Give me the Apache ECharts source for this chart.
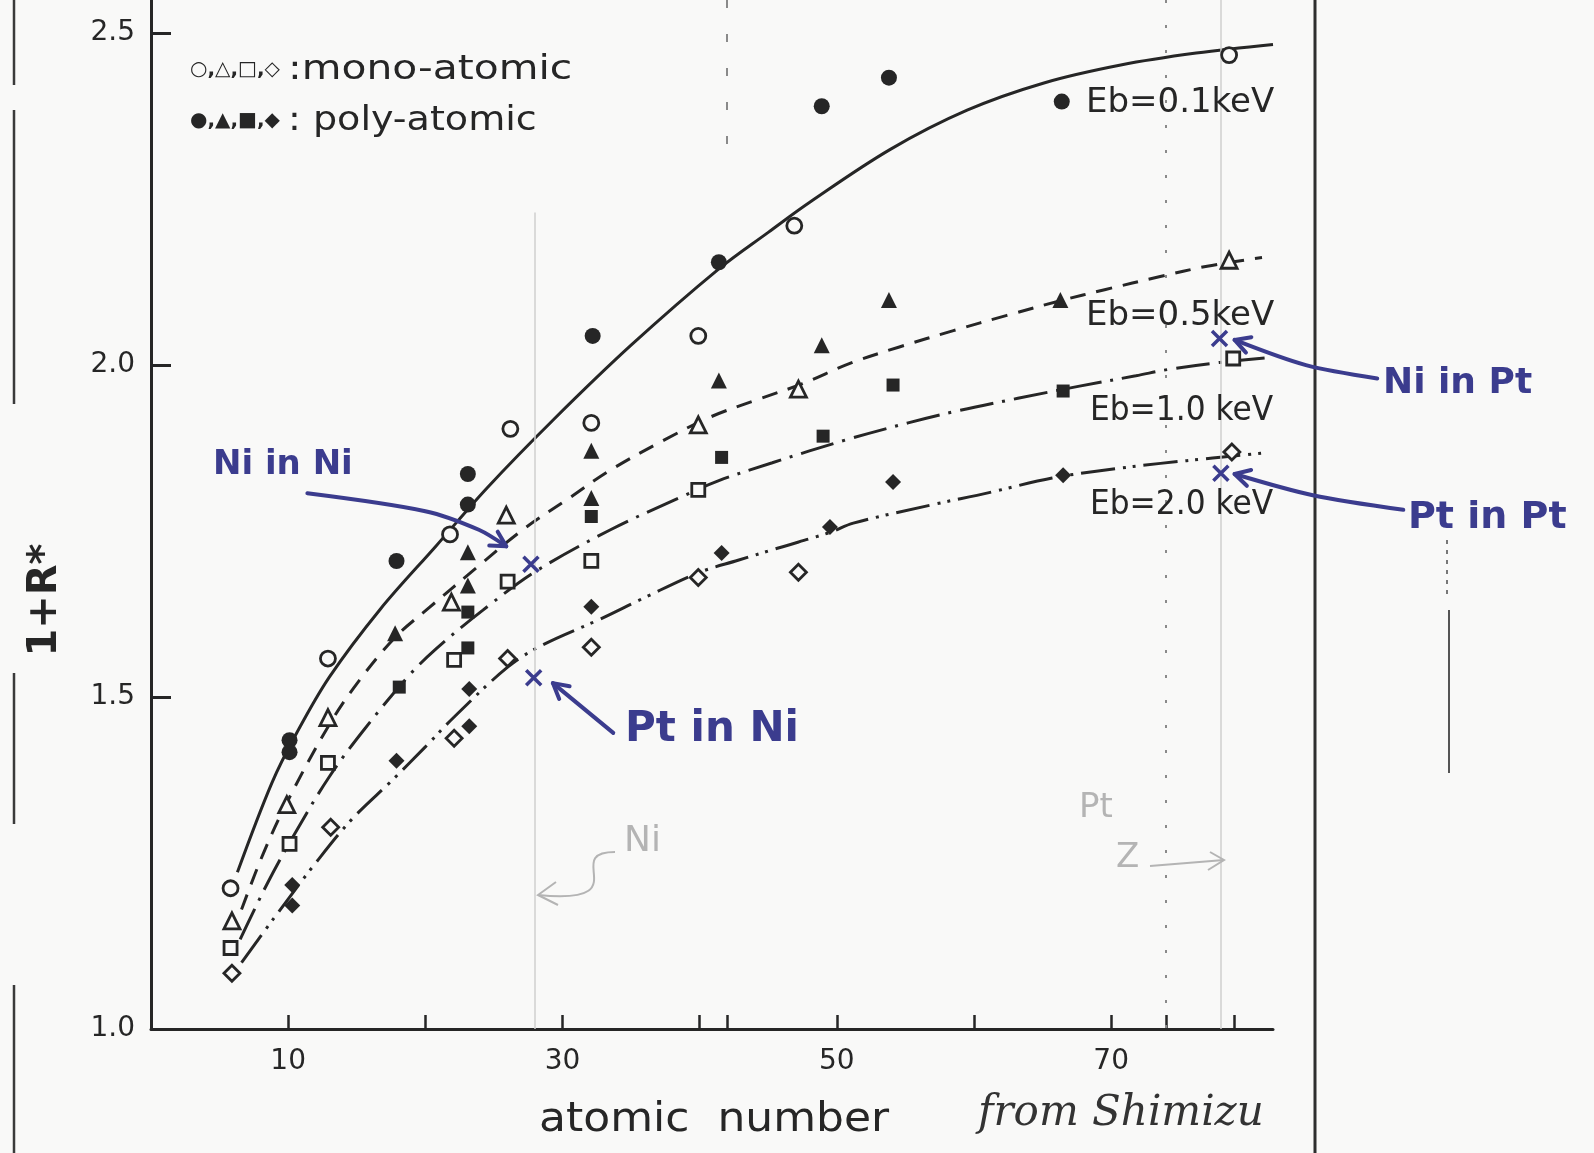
<!DOCTYPE html>
<html>
<head>
<meta charset="utf-8">
<title>1+R* vs atomic number</title>
<script src="https://cdn.jsdelivr.net/npm/echarts@6/dist/echarts.min.js"></script>
<style>
html, body { margin: 0; padding: 0; background: #f9f9f8; }
#main { width: 1594px; height: 1153px; }
</style>
</head>
<body>
<div id="main"></div>
<script>
// axis marks
var xTicks = [10, 20, 30, 40, 42, 50, 60, 70, 74, 79];
var xLabels = [10, 30, 50, 70];
var yTicks = [1.0, 1.5, 2.0, 2.5];

// Eb = 0.1 keV : circles
var monoCircle = [[5.8,1.212],[12.9,1.558],[21.8,1.745],[26.2,1.904],[32.1,1.913],[39.9,2.044],[46.9,2.21],[78.6,2.467]];
var polyCircle = [[10.1,1.435],[10.1,1.417],[17.9,1.705],[23.1,1.836],[23.1,1.79],[32.2,2.044],[41.4,2.155],[48.9,2.39],[53.8,2.433],[66.4,2.397]];
var curve01 = [[6.3,1.236],[8.8,1.37],[10.6,1.445],[13,1.53],[16.7,1.632],[20.8,1.728],[24.5,1.815],[29.3,1.917],[35,2.03],[41.4,2.145],[45,2.2],[48,2.245],[53.9,2.325],[59.5,2.384],[65.1,2.425],[70.7,2.452],[76.2,2.47],[81.8,2.483]];

// Eb = 0.5 keV : triangles
var monoTri = [[5.9,1.163],[9.9,1.338],[12.9,1.469],[21.9,1.643],[25.9,1.774],[39.9,1.91],[47.2,1.964],[78.6,2.158]];
var polyTri = [[17.8,1.596],[23.1,1.718],[23.1,1.668],[32.1,1.871],[32.1,1.80],[41.4,1.977],[48.9,2.03],[53.8,2.098],[66.3,2.098]];
var curve05 = [[6.6,1.18],[8.2,1.265],[10,1.345],[12.9,1.455],[15,1.52],[17.8,1.59],[20.3,1.635],[23.8,1.696],[27.1,1.752],[30.3,1.797],[33.5,1.842],[37.4,1.887],[40.8,1.922],[44.2,1.948],[47.5,1.972],[51,2.003],[54.5,2.027],[58.5,2.052],[62.4,2.075],[66.3,2.097],[69.6,2.114],[73.5,2.133],[77,2.149],[81,2.162]];

// Eb = 1.0 keV : squares
var monoSq = [[5.8,1.122],[10.1,1.279],[12.9,1.401],[22.1,1.556],[26,1.674],[32.1,1.705],[39.9,1.812],[78.9,2.01]];
var polySq = [[18.1,1.515],[23.1,1.628],[23.1,1.574],[32.1,1.772],[41.6,1.861],[49,1.893],[54.1,1.97],[66.5,1.961]];
var curve10 = [[6.5,1.135],[8.5,1.22],[10.5,1.295],[13,1.38],[15.5,1.45],[18.7,1.53],[20.8,1.573],[24.2,1.631],[28.1,1.69],[33.5,1.752],[38.6,1.801],[41.4,1.826],[45.3,1.853],[50.6,1.887],[55.2,1.913],[59,1.932],[63.2,1.95],[67.6,1.968],[71.8,1.984],[74.3,1.994],[77.9,2.004],[81.3,2.011]];

// Eb = 2.0 keV : diamonds
var monoDia = [[5.9,1.084],[13.1,1.304],[22.1,1.438],[26,1.558],[32.1,1.575],[39.9,1.68],[47.2,1.688],[78.8,1.869]];
var polyDia = [[10.3,1.217],[10.3,1.186],[17.9,1.404],[23.2,1.512],[23.2,1.456],[32.1,1.636],[41.6,1.717],[49.5,1.756],[54.1,1.824],[66.5,1.834]];
var curve20 = [[6.6,1.10],[9,1.168],[12,1.25],[14.6,1.315],[17.6,1.375],[20,1.425],[22.1,1.47],[26,1.545],[28.5,1.578],[32.7,1.617],[36,1.65],[40,1.688],[42.8,1.706],[45.8,1.725],[49.5,1.748],[51.2,1.762],[56.8,1.789],[61.1,1.808],[65.7,1.83],[69.6,1.842],[73.6,1.852],[77.4,1.86],[81.3,1.868]];

// hand marked points (blue ink): Ni in Ni, Pt in Ni, Ni in Pt, Pt in Pt
var handPoints = [[27.7,1.70],[27.9,1.529],[77.9,2.04],[78,1.837]];
var arrowNiNi = [[11.4,1.807],[20,1.78],[23.9,1.752],[25.9,1.727]];
var arrowPtNi = [[33.7,1.446],[29.3,1.521]];
var arrowNiPt = [[89.4,1.98],[84.2,2.0],[79.0,2.038]];
var arrowPtPt = [[91.3,1.782],[84.7,1.804],[79.0,1.836]];

var ink = '#262626', paper = '#f9f9f8', blue = '#3b3c8e', pencil = '#b4b4b4';
var FONT = '"DejaVu Sans", sans-serif';

function marks(name, data, symbol, filled, size) {
  return {
    name: name, type: 'scatter', data: data, symbol: symbol, symbolSize: size, z: 5,
    itemStyle: filled ? { color: ink, opacity: 1 }
                      : { color: paper, borderColor: ink, borderWidth: 2.8, opacity: 1 }
  };
}
function curve(name, data, dash) {
  return {
    name: name, type: 'line', data: data, smooth: 0.35, showSymbol: false, symbol: 'none', z: 3,
    lineStyle: { color: ink, width: 3, type: dash }
  };
}

var chart = echarts.init(document.getElementById('main'));

chart.setOption({
  backgroundColor: paper,
  animation: false,
  grid: { left: 151, right: 321, top: 0, bottom: 124 },
  xAxis: {
    type: 'value', min: 0, max: 81.8,
    axisLine: { lineStyle: { color: ink, width: 3 } },
    axisTick: { inside: true, length: 14, customValues: xTicks, lineStyle: { color: ink, width: 2.5 } },
    axisLabel: { customValues: xLabels, margin: 19, color: ink, fontSize: 28, fontFamily: FONT },
    splitLine: { show: false }
  },
  yAxis: {
    type: 'value', min: 1, max: 2.55,
    axisLine: { lineStyle: { color: ink, width: 3 } },
    axisTick: { inside: true, length: 20, customValues: yTicks, lineStyle: { color: ink, width: 3 } },
    axisLabel: {
      customValues: yTicks, margin: 16, color: ink, fontSize: 28, fontFamily: FONT,
      formatter: function (v) { return v.toFixed(1); }
    },
    splitLine: { show: false }
  },
  series: [
    {
      name: 'guides', type: 'line', data: [], z: 1,
      markLine: {
        silent: true, symbol: 'none', label: { show: false }, animation: false,
        data: [
          [{ coord: [28, 2.23], lineStyle: { color: '#cfcfcf', width: 1.5, type: 'solid' } }, { coord: [28, 1.0] }],
          [{ coord: [78, 2.55], lineStyle: { color: '#cfcfcf', width: 1.5, type: 'solid' } }, { coord: [78, 1.0] }],
          [{ coord: [74, 2.55], lineStyle: { color: '#8a8a8a', width: 2, type: [3, 22] } }, { coord: [74, 1.0] }],
          [{ coord: [42, 2.55], lineStyle: { color: '#8a8a8a', width: 2, type: [8, 26] } }, { coord: [42, 2.3] }]
        ]
      }
    },
    curve('Eb=0.1keV', curve01, 'solid'),
    curve('Eb=0.5keV', curve05, [16, 11]),
    curve('Eb=1.0keV', curve10, [34, 9, 3, 9]),
    curve('Eb=2.0keV', curve20, [34, 8, 3, 7, 3, 8]),
    marks('mono circle', monoCircle, 'circle', false, 15),
    marks('poly circle', polyCircle, 'circle', true, 16),
    marks('mono triangle', monoTri, 'triangle', false, 16),
    marks('poly triangle', polyTri, 'triangle', true, 16),
    marks('mono square', monoSq, 'rect', false, 13),
    marks('poly square', polySq, 'rect', true, 13),
    marks('mono diamond', monoDia, 'diamond', false, 16),
    marks('poly diamond', polyDia, 'diamond', true, 16),
    {
      name: 'hand marks', type: 'scatter', data: handPoints, z: 6,
      symbol: 'path://M0,0L10,10M10,0L0,10', symbolSize: 15,
      itemStyle: { color: 'transparent', borderColor: blue, borderWidth: 3.5, opacity: 1 }
    }
  ]
});

function toPx(p) { return chart.convertToPixel({ gridIndex: 0 }, p); }

function arrowShapes(points, color, width, smooth) {
  var pts = points.map(toPx);
  var n = pts.length;
  var a = Math.atan2(pts[n - 1][1] - pts[n - 2][1], pts[n - 1][0] - pts[n - 2][0]);
  var L = 17, t = pts[n - 1];
  var head = [
    [t[0] - L * Math.cos(a - 0.5), t[1] - L * Math.sin(a - 0.5)], t,
    [t[0] - L * Math.cos(a + 0.5), t[1] - L * Math.sin(a + 0.5)]
  ];
  var st = { stroke: color, lineWidth: width, fill: null, lineCap: 'round', lineJoin: 'round' };
  return [
    { type: 'polyline', shape: { points: pts, smooth: smooth }, style: st, z: 20 },
    { type: 'polyline', shape: { points: head }, style: st, z: 20 }
  ];
}

function txt(x, y, text, font, color, extra) {
  var el = {
    type: 'text', x: x, y: y, z: 20,
    style: { text: text, font: font, fill: color, align: 'left', verticalAlign: 'middle',
             textAlign: 'left', textVerticalAlign: 'middle' }
  };
  for (var k in extra) el[k] = extra[k];
  return el;
}
function seg(x1, y1, x2, y2, color, w, dash) {
  return { type: 'line', shape: { x1: x1, y1: y1, x2: x2, y2: y2 }, z: 1,
           style: { stroke: color, lineWidth: w, lineDash: dash || null } };
}

var els = [];
// page edges of the scan
[[0, 85], [110, 404], [673, 824], [985, 1153]].forEach(function (s) {
  els.push(seg(14, s[0], 14, s[1], '#3a3a3a', 2.5));
});
els.push(seg(1315, 0, 1315, 1153, '#2e2e2e', 3));
els.push(seg(1449, 610, 1449, 773, '#555', 2));
els.push(seg(1447, 540, 1447, 597, '#777', 2, [4, 6]));

// key
els.push(txt(190, 70, '○,△,□,◇', 'bold 20px ' + FONT, ink));
els.push(txt(288, 70, ':mono-atomic', '34px ' + FONT, ink, { scaleX: 1.2 }));
els.push(txt(190, 121, '●,▲,■,◆', 'bold 20px ' + FONT, ink));
els.push(txt(288, 121, ': poly-atomic', '34px ' + FONT, ink, { scaleX: 1.12 }));

// curve labels
els.push(txt(1086, 103, 'Eb=0.1keV', '34px ' + FONT, ink));
els.push(txt(1086, 316, 'Eb=0.5keV', '34px ' + FONT, ink));
els.push(txt(1090, 411, 'Eb=1.0 keV', '34px ' + FONT, ink, { scaleX: 0.92 }));
els.push(txt(1090, 505, 'Eb=2.0 keV', '34px ' + FONT, ink, { scaleX: 0.92 }));

// axis titles
els.push({ type: 'text', x: 46, y: 600, rotation: Math.PI / 2, z: 20,
  style: { text: '1+R*', font: 'bold 40px ' + FONT, fill: ink, align: 'center', verticalAlign: 'middle',
           textAlign: 'center', textVerticalAlign: 'middle' } });
els.push(txt(539, 1121, 'atomic  number', '40px ' + FONT, ink, { scaleX: 1.1 }));
els.push(txt(978, 1114, 'from Shimizu', 'italic 42px "DejaVu Serif", serif', '#333'));

// blue ink notes
els.push(txt(213, 465, 'Ni in Ni', 'bold 34px ' + FONT, blue));
els.push(txt(625, 730, 'Pt in Ni', 'bold 42px ' + FONT, blue));
els.push(txt(1383, 384, 'Ni in Pt', 'bold 36px ' + FONT, blue));
els.push(txt(1408, 518, 'Pt in Pt', 'bold 38px ' + FONT, blue));
els = els.concat(arrowShapes(arrowNiNi, blue, 4, 0.3));
els = els.concat(arrowShapes(arrowPtNi, blue, 4, 0));
els = els.concat(arrowShapes(arrowNiPt, blue, 4, 0.3));
els = els.concat(arrowShapes(arrowPtPt, blue, 4, 0.3));

// pencil notes
els.push(txt(624, 842, 'Ni', '36px ' + FONT, pencil));
els.push({ type: 'bezierCurve', z: 20,
  shape: { x1: 615, y1: 852, cpx1: 560, cpy1: 852, cpx2: 640, cpy2: 905, x2: 538, y2: 895 },
  style: { stroke: pencil, lineWidth: 2, fill: null } });
els.push({ type: 'polyline', z: 20, shape: { points: [[556, 882], [538, 895], [558, 905]] },
  style: { stroke: pencil, lineWidth: 2, fill: null } });
els.push(txt(1079, 808, 'Pt', '34px ' + FONT, pencil));
els.push(txt(1116, 858, 'Z', '34px ' + FONT, pencil));
els.push({ type: 'polyline', z: 20, shape: { points: [[1150, 866], [1224, 860]] },
  style: { stroke: pencil, lineWidth: 2, fill: null } });
els.push({ type: 'polyline', z: 20, shape: { points: [[1210, 852], [1224, 860], [1208, 870]] },
  style: { stroke: pencil, lineWidth: 2, fill: null } });

chart.setOption({ graphic: { elements: els } });
</script>
</body>
</html>
